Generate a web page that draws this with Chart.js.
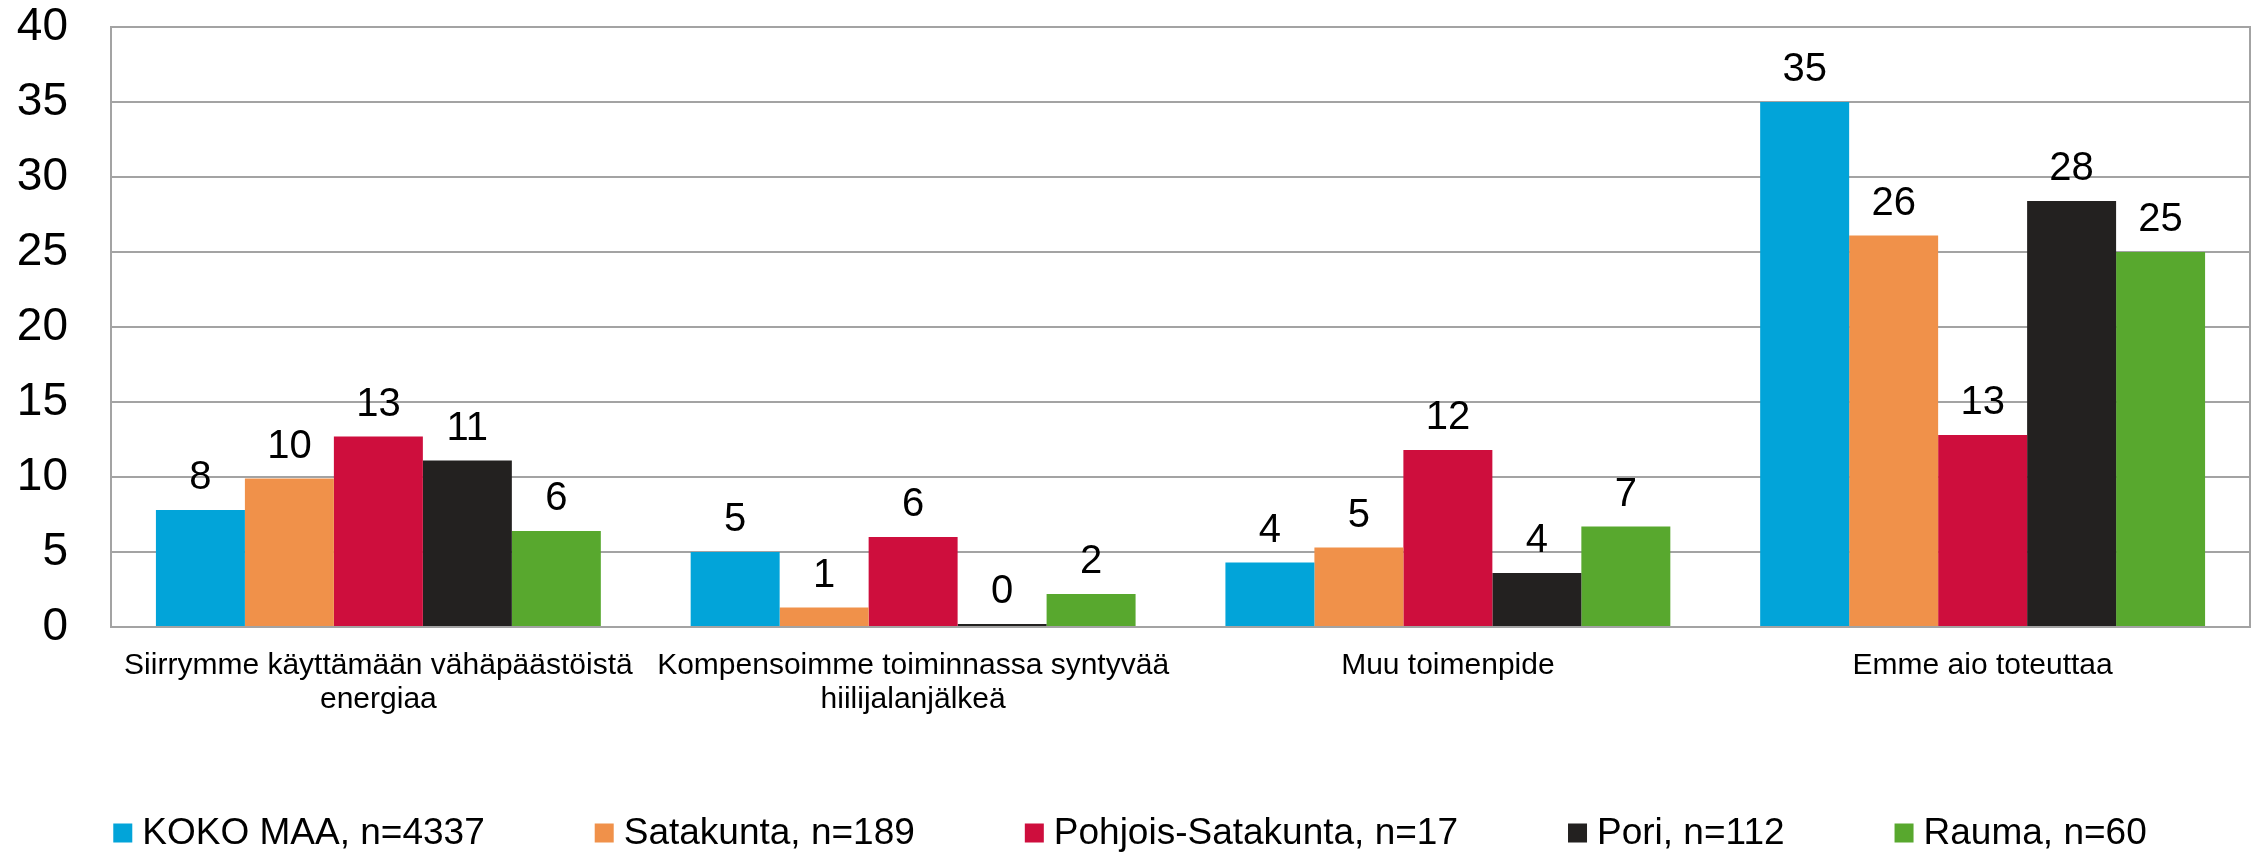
<!DOCTYPE html>
<html>
<head>
<meta charset="utf-8">
<script src="https://cdn.jsdelivr.net/npm/chart.js@4.4.1/dist/chart.umd.min.js"></script>
<style>
  html, body { margin: 0; padding: 0; background: #ffffff; }
  #wrap { width: 2260px; height: 852px; }
</style>
</head>
<body>
<div id="wrap"><canvas id="c" width="2260" height="852"></canvas></div>
<script>
const categories = [
  ["Siirrymme käyttämään vähäpäästöistä", "energiaa"],
  ["Kompensoimme toiminnassa syntyvää", "hiilijalanjälkeä"],
  ["Muu toimenpide"],
  ["Emme aio toteuttaa"]
];
const seriesNames = ["KOKO MAA, n=4337", "Satakunta, n=189", "Pohjois-Satakunta, n=17", "Pori, n=112", "Rauma, n=60"];
const kokoMaa = [7.8, 5.0, 4.3, 35.0];
const satakunta = [9.9, 1.3, 5.3, 26.1];
const pohjoisSatakunta = [12.7, 6.0, 11.8, 12.8];
const pori = [11.1, 0.2, 3.6, 28.4];
const rauma = [6.4, 2.2, 6.7, 25.0];
const yTicks = [0, 5, 10, 15, 20, 25, 30, 35, 40];

const colors = ["#02A4D9", "#F0914A", "#CE0E3D", "#232120", "#58A82E"];
const seriesValues = [kokoMaa, satakunta, pohjoisSatakunta, pori, rauma];
const FONT = "'Liberation Sans', Arial, sans-serif";
const GRID = "#a3a3a3";

const framePlugin = {
  id: 'frame',
  beforeDatasetsDraw(chart) {
    const { ctx, chartArea } = chart;
    ctx.save();
    ctx.strokeStyle = GRID;
    ctx.lineWidth = 2;
    ctx.beginPath();
    ctx.moveTo(chartArea.right, chartArea.top - 1);
    ctx.lineTo(chartArea.right, chartArea.bottom + 1);
    ctx.stroke();
    ctx.restore();
  }
};

const valueLabels = {
  id: 'valueLabels',
  afterDatasetsDraw(chart) {
    const { ctx } = chart;
    ctx.save();
    ctx.font = "40px " + FONT;
    ctx.fillStyle = "#000000";
    ctx.textAlign = "center";
    ctx.textBaseline = "alphabetic";
    chart.data.datasets.forEach((ds, i) => {
      const meta = chart.getDatasetMeta(i);
      meta.data.forEach((el, j) => {
        ctx.fillText(String(Math.round(ds.data[j])), el.x, el.y - 21);
      });
    });
    ctx.restore();
  }
};

const customLegend = {
  id: 'customLegend',
  afterDraw(chart) {
    const { ctx } = chart;
    ctx.save();
    ctx.font = "37px " + FONT;
    const box = 19, gap = 10, spacing = 110;
    const items = chart.data.datasets.map(ds => ({ text: ds.label, color: ds.backgroundColor, w: ctx.measureText(ds.label).width }));
    let total = 0;
    items.forEach((it, i) => { total += box + gap + it.w + (i < items.length - 1 ? spacing : 0); });
    let x = chart.width / 2 - total / 2;
    const cy = 833;
    ctx.textBaseline = "middle";
    ctx.textAlign = "left";
    items.forEach(it => {
      ctx.fillStyle = it.color;
      ctx.fillRect(x, cy - box / 2, box, box);
      ctx.fillStyle = "#000000";
      ctx.fillText(it.text, x + box + gap, cy + 1);
      x += box + gap + it.w + spacing;
    });
    ctx.restore();
  }
};

new Chart(document.getElementById('c'), {
  type: 'bar',
  data: {
    labels: categories,
    datasets: seriesNames.map((name, i) => ({
      label: name,
      data: seriesValues[i],
      backgroundColor: colors[i],
      borderWidth: 0,
      categoryPercentage: 0.832,
      barPercentage: 1.0
    }))
  },
  options: {
    responsive: false,
    animation: false,
    devicePixelRatio: 1,
    layout: { padding: { left: 0, right: 10, top: 27, bottom: 125 } },
    plugins: {
      legend: { display: false },
      tooltip: { enabled: false }
    },
    scales: {
      x: {
        grid: { display: false, drawTicks: false },
        border: { display: true, color: GRID, width: 2 },
        ticks: {
          color: "#000000",
          font: { family: FONT, size: 30, lineHeight: 1.15 },
          padding: 21,
          maxRotation: 0,
          autoSkip: false
        },
        afterFit(scale) { scale.height = 100; scale.paddingLeft = 0; scale.paddingRight = 0; }
      },
      y: {
        min: 0,
        max: 40,
        afterBuildTicks(scale) { scale.ticks = yTicks.map(v => ({ value: v })); },
        grid: { color: GRID, lineWidth: 2, drawTicks: false },
        border: { display: true, color: GRID, width: 2 },
        ticks: {
          color: "#000000",
          font: { family: FONT, size: 46, lineHeight: 1.15 },
          padding: 43
        },
        afterFit(scale) { scale.width = 111; scale.paddingTop = 0; scale.paddingBottom = 0; }
      }
    }
  },
  plugins: [framePlugin, valueLabels, customLegend]
});
</script>
</body>
</html>
